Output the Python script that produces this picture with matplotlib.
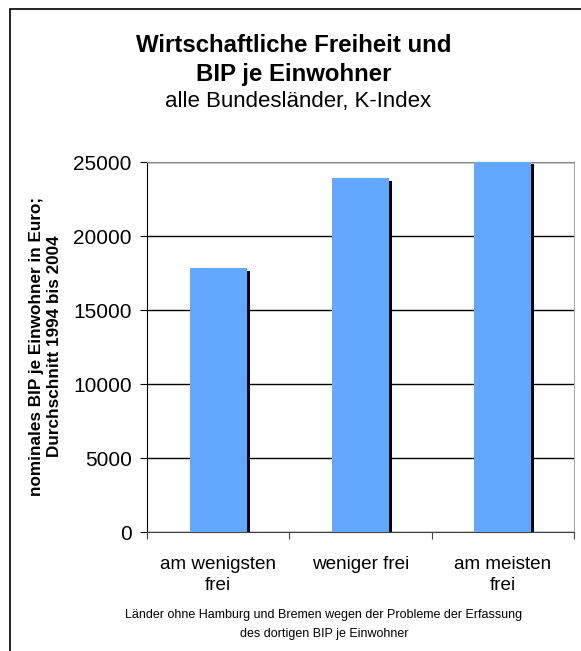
import matplotlib.pyplot as plt
import matplotlib.patheffects as pe
from matplotlib.patches import Rectangle

plt.rcParams['font.family'] = ['Liberation Sans', 'DejaVu Sans']

categories = ["am wenigsten\nfrei", "weniger frei", "am meisten\nfrei"]
bip = [17860, 23920, 25070]
yticks = [0, 5000, 10000, 15000, 20000, 25000]

fig = plt.figure(figsize=(5.81, 6.51), dpi=100)
ax = fig.add_axes([147 / 581, 1 - 532 / 651, 427 / 581, 370 / 651])

# outer frame of the chart
fig.patches.append(Rectangle((10 / 581, -0.05), 1.2, 1 - 9 / 651 + 0.05,
                             transform=fig.transFigure, fill=False,
                             edgecolor='black', linewidth=1.2))

x = list(range(len(categories)))
bars = ax.bar(x, bip, width=0.4, color='#62A8FF', zorder=3)
for b in bars:
    b.set_path_effects([pe.SimplePatchShadow(offset=(2.2, -2.2), shadow_rgbFace='black', alpha=1),
                        pe.Normal()])

ax.set_xlim(-0.5, 2.5)
ax.set_ylim(0, 25000)
ax.set_yticks(yticks)
ax.set_yticklabels([str(t) for t in yticks], fontsize=15)
ax.yaxis.grid(True, color='black', linewidth=1, zorder=0)
ax.set_axisbelow(True)

ax.set_xticks([-0.5, 0.5, 1.5, 2.5])
ax.set_xticklabels([])
ax.tick_params(axis='x', length=5, color='#444444', direction='out')
ax.tick_params(axis='y', length=5, color='black', direction='out', pad=6)
for xi, lab in zip(x, categories):
    ax.text(xi, -1650, lab, ha='center', va='top', fontsize=13.6, linespacing=1.3)

ax.spines['left'].set_color('black')
ax.spines['bottom'].set_color('#444444')
ax.spines['top'].set_color('#888888')
ax.spines['right'].set_color('#aaaaaa')

fig.text(46 / 581, 1 - 346 / 651, "nominales BIP je Einwohner in Euro;\nDurchschnitt 1994 bis 2004",
         ha='center', va='center', rotation=90, fontsize=12.3, fontweight='bold', linespacing=1.25)

fig.text(294 / 581, 1 - 45 / 651, "Wirtschaftliche Freiheit und", ha='center', va='center',
         fontsize=17.3, fontweight='bold')
fig.text(294 / 581, 1 - 75 / 651, "BIP je Einwohner", ha='center', va='center',
         fontsize=17.3, fontweight='bold')
fig.text(298 / 581, 1 - 101 / 651, "alle Bundesländer, K-Index", ha='center', va='center',
         fontsize=16)

fig.text(324 / 581, 1 - 615 / 651, "Länder ohne Hamburg und Bremen wegen der Probleme der Erfassung",
         ha='center', va='center', fontsize=9.0)
fig.text(324 / 581, 1 - 634 / 651, "des dortigen BIP je Einwohner",
         ha='center', va='center', fontsize=9.0)

fig.savefig("out.png", dpi=100)
